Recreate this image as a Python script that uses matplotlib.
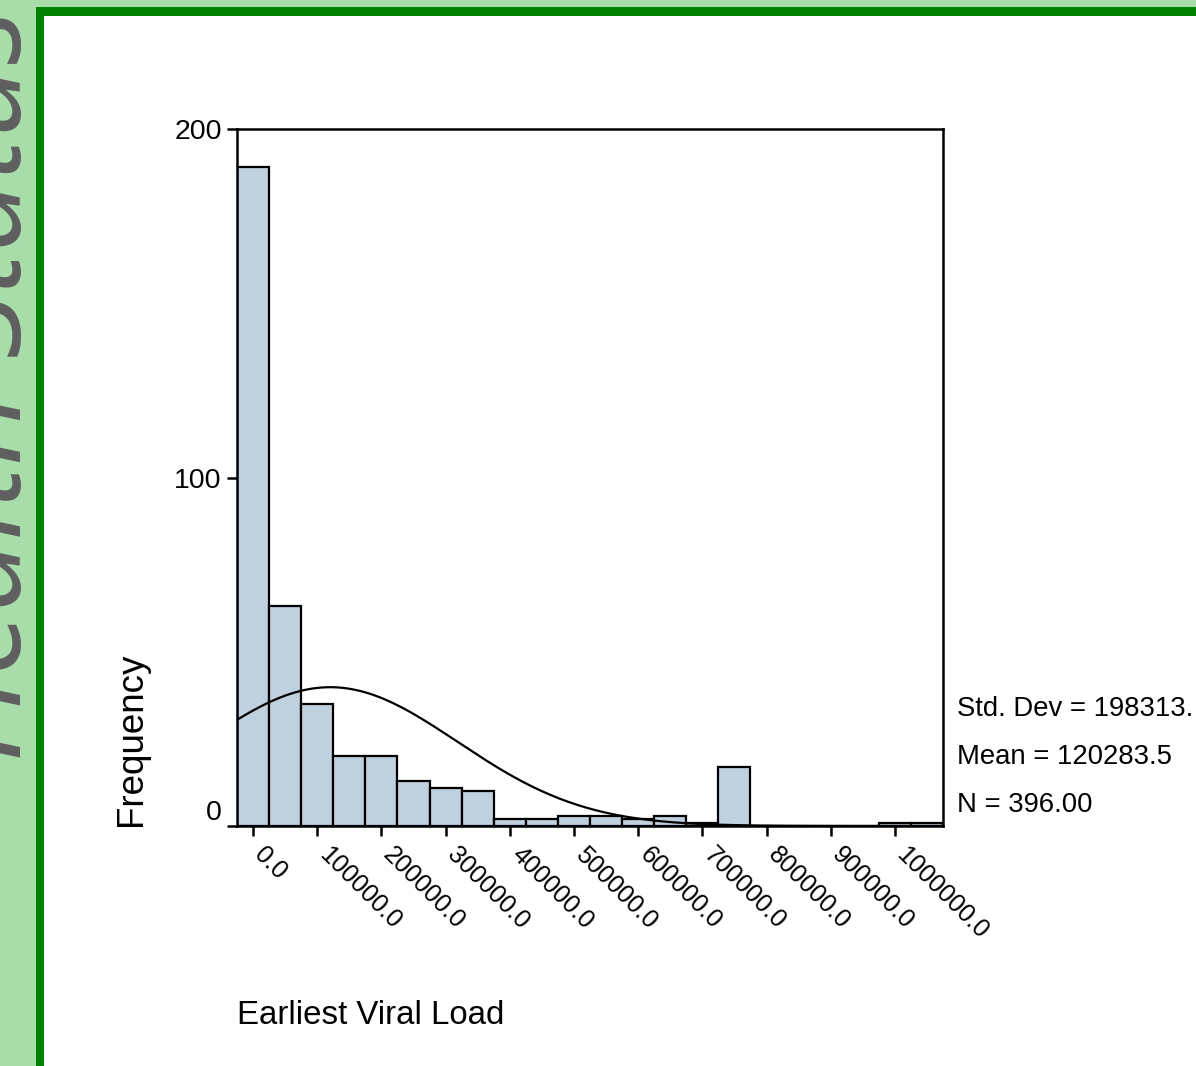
import numpy as np
import matplotlib.pyplot as plt
from matplotlib.patches import Rectangle
from matplotlib.transforms import ScaledTranslation

# histogram data (bin centres, width 50000)
bin_centers = [0, 50000, 100000, 150000, 200000, 250000, 300000, 350000,
               400000, 450000, 500000, 550000, 600000, 650000, 700000, 750000,
               800000, 850000, 900000, 950000, 1000000, 1050000]
counts = [189, 63, 35, 20, 20, 13, 11, 10,
          2, 2, 3, 3, 2, 3, 1, 17,
          0, 0, 0, 0, 1, 1]
bin_width = 50000

std_dev = 198313.0
mean = 120283.5
n_obs = 396

x_ticks = [0, 100000, 200000, 300000, 400000, 500000,
           600000, 700000, 800000, 900000, 1000000]
x_tick_labels = ['0.0', '100000.0', '200000.0', '300000.0', '400000.0', '500000.0',
                 '600000.0', '700000.0', '800000.0', '900000.0', '1000000.0']
y_ticks = [0, 100, 200]

plt.rcParams['font.family'] = ['Liberation Sans', 'DejaVu Sans']

W, H = 1196, 1066
fig = plt.figure(figsize=(W / 100, H / 100), dpi=100)

# green frame
light_green = '#a8dca8'
dark_green = '#008000'
fig.patches.append(Rectangle((0, 0), 36 / W, 1, transform=fig.transFigure,
                             facecolor=light_green, edgecolor='none', zorder=0))
fig.patches.append(Rectangle((0, 1 - 7 / H), 1, 7 / H, transform=fig.transFigure,
                             facecolor=light_green, edgecolor='none', zorder=0))
fig.patches.append(Rectangle((36 / W, 0), 8 / W, 1 - 7 / H, transform=fig.transFigure,
                             facecolor=dark_green, edgecolor='none', zorder=1))
fig.patches.append(Rectangle((36 / W, 1 - 16 / H), 1, 9 / H, transform=fig.transFigure,
                             facecolor=dark_green, edgecolor='none', zorder=1))

fig.text(21 / W, 1 - 762 / H, 'Health Status', rotation=90, rotation_mode='anchor',
         ha='left', va='baseline', fontsize=92, style='italic', color='#5f5f5f',
         family=['Open Sans', 'DejaVu Sans'])

ax = fig.add_axes([237 / W, 1 - 826 / H, 706 / W, 697 / H])

ax.bar(bin_centers, counts, width=bin_width, color='#bfd0de',
       edgecolor='black', linewidth=1.6, zorder=2)

# fitted normal curve
xs = np.linspace(-25000, 1075000, 400)
ys = n_obs * bin_width / (std_dev * np.sqrt(2 * np.pi)) * np.exp(-0.5 * ((xs - mean) / std_dev) ** 2)
ax.plot(xs, ys, color='black', linewidth=1.6, zorder=3)

ax.set_xlim(-25000, 1075000)
ax.set_ylim(0, 200)
for sp in ax.spines.values():
    sp.set_linewidth(1.8)

ax.set_yticks(y_ticks)
ax.set_yticklabels([str(v) for v in y_ticks], fontsize=20.5)
ax.set_xticks(x_ticks)
ax.set_xticklabels(x_tick_labels, fontsize=18, rotation=-45, ha='left',
                   va='top', rotation_mode='anchor')
ax.tick_params(axis='both', length=7, width=1.8, direction='out', pad=4)
ax.tick_params(axis='x', pad=5)
for lbl in ax.get_xticklabels():
    lbl.set_transform(lbl.get_transform() + ScaledTranslation(10 / 72, 0, fig.dpi_scale_trans))
ax.get_yticklabels()[0].set_verticalalignment('bottom')

fig.text(131 / W, 1 - 739 / H, 'Frequency', rotation=90, ha='center', va='center', fontsize=26.5)
fig.text(237 / W, 1 - 1015 / H, 'Earliest Viral Load', ha='left', va='center', fontsize=23.8)

stats = ['Std. Dev = 198313.', 'Mean = 120283.5', 'N = 396.00']
for i, s in enumerate(stats):
    fig.text(957 / W, 1 - (709 + 48 * i) / H, s, ha='left', va='center', fontsize=19.8)

fig.savefig('out.png', dpi=100)
